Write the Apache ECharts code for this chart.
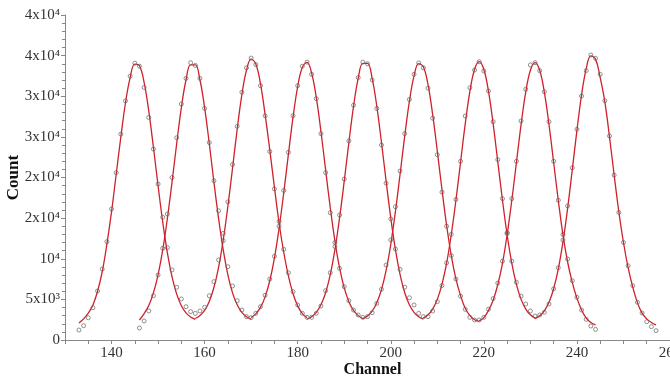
<!DOCTYPE html>
<html>
<head>
	<meta charset="utf-8" />
	<title>Channel counts</title>
	<script src="https://cdn.jsdelivr.net/npm/echarts@6/dist/echarts.min.js"></script>
	<style>
		html, body { margin: 0; padding: 0; background: #fff; }
		#main { width: 670px; height: 378px; }
	</style>
</head>
<body>
	<div id="main"></div>
	<script type="text/javascript">
		// y tick labels, one per 5000 counts (as printed on the original)
		var yTickLabels = ['0', '5x10³', '10⁴', '2x10⁴', '2x10⁴', '3x10⁴', '3x10⁴', '4x10⁴', '4x10⁴'];
		// x tick labels
		var xTickLabels = [140, 160, 180, 200, 220, 240, 260];

		// measured points: first channel of each peak, then counts per channel
		var pointStart = [133, 146, 159, 171, 183, 195, 208, 219, 232];
		var points1 = [1230, 1760, 2740, 3970, 6030, 8730, 12100, 16120, 20600, 25340, 29430, 32470, 34070, 33700, 31080, 27390, 23500, 19200, 15100, 11360, 8620, 6490, 5050, 4100, 3490, 3280];
		var points2 = [1480, 2340, 3570, 5450, 8000, 11280, 15500, 20000, 24900, 29050, 32200, 34130, 33800, 32200, 28500, 24300, 19600, 15900, 12220, 9020, 6650, 4840, 3690, 2870, 2750];
		var points3 = [3570, 4020, 5450, 7180, 9850, 13130, 17000, 21600, 26300, 30500, 33500, 34700, 33900, 31300, 27600, 23200, 18600, 14600, 11160, 8280, 5950, 4310, 3280, 2790];
		var points4 = [3280, 4100, 5500, 7500, 10300, 14000, 18400, 23100, 27600, 31300, 33700, 34200, 32700, 29700, 25400, 20600, 15670, 12000, 8820, 6560, 4840, 3690, 3080, 2790];
		var points5 = [2790, 3280, 4180, 6070, 8280, 11500, 15380, 19800, 24500, 28900, 32300, 34200, 34000, 32000, 28500, 24000, 19300, 14900, 11200, 8700, 6500, 5200, 4310, 3280, 2870];
		var points6 = [2870, 3360, 4510, 6240, 9230, 12310, 16400, 20800, 25400, 29600, 32700, 34100, 33500, 31000, 27300, 22800, 18200, 14000, 10400, 7500, 5400, 3780, 2790, 2460];
		var points7 = [2870, 3570, 4720, 6700, 9500, 13000, 17300, 22000, 27570, 31050, 33230, 34250, 33110, 30650, 26870, 22200, 17400, 13100, 9700, 7100, 5400, 4430, 3570, 2950];
		var points8 = [2460, 2790, 3780, 5100, 7000, 9700, 13200, 17400, 22000, 26960, 30860, 33850, 34130, 33150, 30560, 26870, 22000, 17200, 13000, 9970, 7300, 5250, 3690, 2540, 1720, 1310];
		var points9 = [3080, 3410, 4430, 6300, 8900, 12300, 16500, 21200, 25930, 30030, 33150, 35080, 34670, 32700, 29450, 25110, 20300, 15700, 12000, 9140, 6680, 4640, 3320, 2250, 1640, 1150];

		// fitted curves, read at each channel
		var curveStart = [133, 146, 158, 170, 182, 194, 207, 219, 231];
		var curve1 = [2100, 2600, 3300, 4300, 6000, 8400, 11800, 15800, 20400, 25000, 29200, 32300, 33950, 33750, 31710, 28180, 23720, 18980, 14520, 10730, 7770, 5640, 4210, 3330, 2820, 2550];
		var curve2 = [2460, 3250, 4250, 5800, 8020, 11080, 14960, 19440, 24180, 28600, 32000, 33850, 33850, 32000, 28600, 24180, 19440, 14960, 11080, 8020, 5800, 4330, 3400, 2860, 2570];
		var curve3 = [2650, 3010, 3650, 4750, 6460, 8950, 12310, 16460, 21160, 25940, 30170, 33210, 34560, 33980, 31560, 27730, 23400, 18800, 14400, 10800, 7900, 5700, 4200, 3250, 2750];
		var curve4 = [2760, 3210, 4010, 5310, 7290, 10090, 13740, 18110, 22840, 27420, 31200, 33580, 34160, 32830, 29820, 25650, 20930, 16290, 12180, 8870, 6410, 4720, 3640, 3000, 2640];
		var curve5 = [2570, 2870, 3410, 4340, 5820, 8060, 11130, 15040, 19550, 24320, 28760, 32190, 34040, 34040, 32190, 28760, 24320, 19550, 15040, 11130, 8060, 5820, 4340, 3410, 2870, 2570];
		var curve6 = [2620, 2950, 3550, 4580, 6200, 8560, 11780, 15810, 20400, 25120, 29360, 32500, 34010, 33630, 31420, 27760, 23250, 18520, 14110, 10390, 7520, 5460, 3900, 3000, 2500, 2300];
		var curve7 = [2700, 3100, 3810, 5000, 6840, 9460, 12970, 17210, 21910, 26590, 30590, 33290, 34250, 33290, 30590, 26590, 21910, 17210, 12970, 9460, 6840, 5000, 3810, 3100, 2700];
		var curve8 = [2350, 2750, 3650, 4900, 6830, 9440, 12940, 17170, 21850, 26510, 30500, 33200, 34150, 33200, 30500, 26510, 21850, 17170, 12940, 9600, 7100, 5150, 3700, 2700, 2150, 1850];
		var curve9 = [2630, 2970, 3590, 4650, 6310, 8750, 12070, 16210, 20940, 25800, 30170, 33410, 34960, 34570, 32290, 29300, 25000, 20300, 15800, 12000, 8900, 6500, 4600, 3300, 2600, 2150, 1850];

		var allPoints = [points1, points2, points3, points4, points5, points6, points7, points8, points9];
		var allCurves = [curve1, curve2, curve3, curve4, curve5, curve6, curve7, curve8, curve9];

		function pairs(start, values) {
			var out = [];
			for (var i = 0; i < values.length; i++) {
				out.push([start + i, values[i]]);
			}
			return out;
		}

		var series = [];
		for (var k = 0; k < allCurves.length; k++) {
			series.push({
				type: 'line',
				data: pairs(curveStart[k], allCurves[k]),
				smooth: 0.4,
				showSymbol: false,
				silent: true,
				lineStyle: { color: '#d0202a', width: 1.3 },
				z: 2
			});
		}
		for (var k = 0; k < allPoints.length; k++) {
			series.push({
				type: 'scatter',
				data: pairs(pointStart[k], allPoints[k]),
				symbol: 'circle',
				symbolSize: 4,
				silent: true,
				itemStyle: { color: 'rgba(0,0,0,0)', borderColor: '#666', borderWidth: 0.9 },
				z: 3
			});
		}

		var serif = 'Liberation Serif';
		var myChart = echarts.init(document.getElementById('main'));
		var option = {
			animation: false,
			backgroundColor: '#fff',
			grid: { left: 65, right: 0, top: 15, bottom: 38, containLabel: false, outerBoundsMode: 'none' },
			xAxis: {
				type: 'value',
				min: 130,
				max: 260,
				interval: 5,
				name: 'Channel',
				nameLocation: 'middle',
				nameGap: 22,
				nameMoveOverlap: false,
				nameTextStyle: { fontFamily: serif, fontWeight: 'bold', fontSize: 16, color: '#111', padding: [0, 0, 0, 10] },
				axisLine: { lineStyle: { color: '#888', width: 1 } },
				axisTick: { length: 4, lineStyle: { color: '#888' } },
				axisLabel: {
					fontFamily: serif, fontSize: 15, color: '#333', margin: 6, interval: 0,
					showMinLabel: true, showMaxLabel: true, alignMaxLabel: 'center',
					formatter: function (v) { return xTickLabels.indexOf(v) >= 0 ? String(v) : ''; }
				},
				splitLine: { show: false }
			},
			yAxis: {
				type: 'value',
				min: 0,
				max: 40000,
				interval: 5000,
				name: 'Count',
				nameLocation: 'middle',
				nameGap: 43,
				nameMoveOverlap: false,
				nameTextStyle: { fontFamily: serif, fontWeight: 'bold', fontSize: 17, color: '#111' },
				axisLine: { show: true, lineStyle: { color: '#888', width: 1 } },
				axisTick: { show: true, length: 4, lineStyle: { color: '#888' } },
				minorTick: { show: true, splitNumber: 5, length: 3, lineStyle: { color: '#888' } },
				axisLabel: {
					fontFamily: serif, fontSize: 15, color: '#333', margin: 5,
					formatter: function (v) { return yTickLabels[Math.round(v / 5000)]; }
				},
				splitLine: { show: false }
			},
			series: series
		};
		myChart.setOption(option);
	</script>
</body>
</html>
